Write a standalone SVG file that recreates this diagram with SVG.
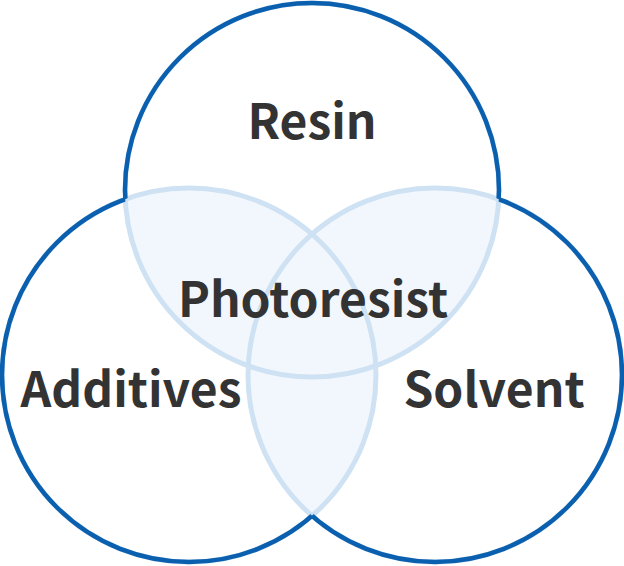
<svg xmlns="http://www.w3.org/2000/svg" width="624" height="566" viewBox="0 0 624 566">
  <style>
    .lbl { font-family: "Noto Sans CJK JP", "Noto Sans", "Liberation Sans", sans-serif; font-weight: 700; font-size: 48px; fill: #333333; text-anchor: middle; }
    .inner { fill: none; stroke: #cfe2f3; stroke-width: 5; }
    .outer { fill: none; stroke: #0a5fae; stroke-width: 4.5; }
  </style>
  <defs>
    <clipPath id="cT"><circle cx="312" cy="190" r="187"/></clipPath>
    <clipPath id="cL"><circle cx="189" cy="375" r="187"/></clipPath>
    <clipPath id="cR"><circle cx="435" cy="375" r="187"/></clipPath>
    <mask id="mT" maskUnits="userSpaceOnUse" x="0" y="0" width="624" height="566">
      <rect width="624" height="566" fill="#fff"/>
      <circle cx="189" cy="375" r="187" fill="#000"/>
      <circle cx="435" cy="375" r="187" fill="#000"/>
    </mask>
    <mask id="mL" maskUnits="userSpaceOnUse" x="0" y="0" width="624" height="566">
      <rect width="624" height="566" fill="#fff"/>
      <circle cx="312" cy="190" r="187" fill="#000"/>
      <circle cx="435" cy="375" r="187" fill="#000"/>
    </mask>
    <mask id="mR" maskUnits="userSpaceOnUse" x="0" y="0" width="624" height="566">
      <rect width="624" height="566" fill="#fff"/>
      <circle cx="312" cy="190" r="187" fill="#000"/>
      <circle cx="189" cy="375" r="187" fill="#000"/>
    </mask>
  </defs>
  <rect width="624" height="566" fill="#ffffff"/>
  <g id="overlaps" fill="#f2f7fd">
    <circle cx="312" cy="190" r="187" clip-path="url(#cL)"/>
    <circle cx="312" cy="190" r="187" clip-path="url(#cR)"/>
    <circle cx="189" cy="375" r="187" clip-path="url(#cR)"/>
  </g>
  <g id="inner-arcs">
    <circle class="inner" cx="312" cy="190" r="187"/>
    <circle class="inner" cx="189" cy="375" r="187"/>
    <circle class="inner" cx="435" cy="375" r="187"/>
  </g>
  <g id="resin">
    <circle class="outer" cx="312" cy="190" r="187" mask="url(#mT)"/>
    <text class="lbl" x="312" y="139">Resin</text>
  </g>
  <g id="additives">
    <circle class="outer" cx="189" cy="375" r="187" mask="url(#mL)"/>
    <text class="lbl" x="131" y="407">Additives</text>
  </g>
  <g id="solvent">
    <circle class="outer" cx="435" cy="375" r="187" mask="url(#mR)"/>
    <text class="lbl" x="494" y="407">Solvent</text>
  </g>
  <g id="photoresist">
    <text class="lbl" x="313" y="317">Photoresist</text>
  </g>
</svg>
